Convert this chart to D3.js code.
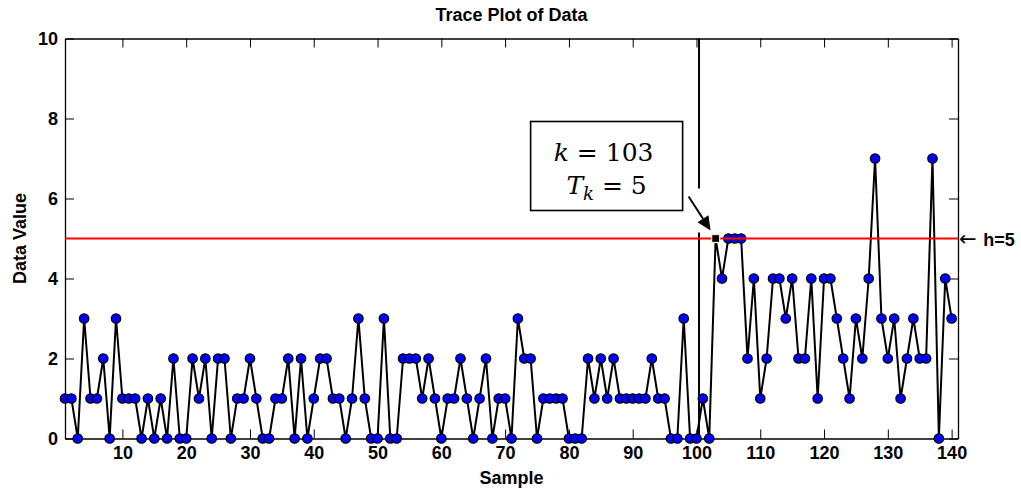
<!DOCTYPE html>
<html>
<head>
<meta charset="utf-8">
<script src="https://cdn.jsdelivr.net/npm/d3@7"></script>
<style>
  body { margin: 0; background: #fff; }
</style>
</head>
<body>
<svg id="chart" width="1021" height="489" font-family="Liberation Sans, Arial, sans-serif"></svg>
<script>
// sample values, index 1..140
const dataValues = [
    1,1,0,3,1,1,2,0,3,1,1,1,
    0,1,0,1,0,2,0,0,2,1,2,0,
    2,2,0,1,1,2,1,0,0,1,1,2,
    0,2,0,1,2,2,1,1,0,1,3,1,
    0,0,3,0,0,2,2,2,1,2,1,0,
    1,1,2,1,0,1,2,0,1,1,0,3,
    2,2,0,1,1,1,1,0,0,0,2,1,
    2,1,2,1,1,1,1,1,2,1,1,0,
    0,3,0,0,1,0,5,4,5,5,5,2,
    4,1,2,4,4,3,4,2,2,4,1,4,
    4,3,2,1,3,2,4,7,3,2,3,1,
    2,3,2,2,7,0,4,3];
const xTicks = [10, 20, 30, 40, 50, 60, 70, 80, 90, 100, 110, 120, 130, 140];
const yTicks = [0, 2, 4, 6, 8, 10];
const xDomain = [1, 141];
const yDomain = [0, 10];
const threshold = 5;          // h
const alarmIndex = 103;       // k
const changePoint = 100.4;    // vertical marker
const thresholdLabel = "h=5";
const boxLines = [["k", " = 103"], ["T", "k", " = 5"]];

let dimensions = (svg, m) =>
    ({width: +svg.attr("width"), height: +svg.attr("height"), margin: m,
      innerWidth: +svg.attr("width") - m.left - m.right,
      innerHeight: +svg.attr("height") - m.top - m.bottom});

function tracePlot(id) {
    const svg = d3.select(`#${id}`);
    const graph = dimensions(svg, {top: 38.5, left: 65, right: 63, bottom: 50.5});
    const data = dataValues.map((v, i) => ({sample: i + 1, value: v}));

    const x = d3.scaleLinear().domain(xDomain).range([0, graph.innerWidth]);
    const y = d3.scaleLinear().domain(yDomain).range([graph.innerHeight, 0]);

    const g = svg.append("g")
          .attr("transform", `translate(${graph.margin.left}, ${graph.margin.top})`);

    // axes (ticks point inward on all four sides)
    const styleAxis = sel => {
        sel.attr("font-family", null).attr("font-size", null);
        sel.select(".domain").attr("stroke", "#000").attr("stroke-width", 1.3);
        sel.selectAll(".tick line").attr("stroke", "#000").attr("stroke-width", 1);
        sel.selectAll(".tick text")
            .attr("font-weight", "bold")
            .attr("font-size", 18)
            .attr("fill", "#000");
    };

    g.append("g")
        .attr("transform", `translate(0, ${graph.innerHeight})`)
        .call(d3.axisBottom(x).tickValues(xTicks).tickSizeInner(-9).tickSizeOuter(0).tickPadding(8))
        .call(styleAxis);
    g.append("g")
        .call(d3.axisTop(x).tickValues(xTicks).tickSizeInner(-9).tickSizeOuter(0).tickFormat(""))
        .call(styleAxis);
    g.append("g")
        .call(d3.axisLeft(y).tickValues(yTicks).tickSizeInner(-9).tickSizeOuter(0).tickPadding(7))
        .call(styleAxis);
    g.append("g")
        .attr("transform", `translate(${graph.innerWidth}, 0)`)
        .call(d3.axisRight(y).tickValues(yTicks).tickSizeInner(-9).tickSizeOuter(0).tickFormat(""))
        .call(styleAxis);

    // change point marker, broken where the arrow passes
    const tip = [x(alarmIndex) - 5, y(threshold) - 8];
    const tail = [tip[0] - 22, tip[1] - 34];
    const vx = x(changePoint);
    [[0, tail[1] - 8], [tip[1] + 2, graph.innerHeight]].forEach(seg =>
        g.append("line")
            .attr("x1", vx).attr("x2", vx)
            .attr("y1", seg[0]).attr("y2", seg[1])
            .attr("stroke", "#000").attr("stroke-width", 2));

    // trace
    g.append("path")
        .attr("d", d3.line().x(d => x(d.sample)).y(d => y(d.value))(data))
        .attr("fill", "none")
        .attr("stroke", "#000")
        .attr("stroke-width", 2)
        .attr("stroke-linejoin", "round");

    g.selectAll("circle").data(data.filter(d => d.sample !== alarmIndex))
        .enter().append("circle")
        .attr("cx", d => x(d.sample))
        .attr("cy", d => y(d.value))
        .attr("r", 4.7)
        .attr("fill", "#0000ff")
        .attr("stroke", "#000")
        .attr("stroke-width", 1.3);

    // threshold
    g.append("line")
        .attr("x1", 0).attr("x2", graph.innerWidth)
        .attr("y1", y(threshold)).attr("y2", y(threshold))
        .attr("stroke", "#ff0000").attr("stroke-width", 2);

    // alarm point
    const alarm = data.find(d => d.sample === alarmIndex);
    g.append("rect")
        .attr("x", x(alarm.sample) - 4).attr("y", y(alarm.value) - 4)
        .attr("width", 8).attr("height", 8)
        .attr("fill", "#000")
        .attr("stroke", "#f3efc0").attr("stroke-width", 1.3);

    // annotation arrow
    const ang = Math.atan2(tip[1] - tail[1], tip[0] - tail[0]);
    const headLen = 14, headW = 6.5;
    const base = [tip[0] - headLen * Math.cos(ang), tip[1] - headLen * Math.sin(ang)];
    g.append("line")
        .attr("x1", tail[0]).attr("y1", tail[1])
        .attr("x2", base[0]).attr("y2", base[1])
        .attr("stroke", "#000").attr("stroke-width", 2);
    g.append("path")
        .attr("d", `M${tip[0]},${tip[1]}`
              + `L${base[0] - headW * Math.sin(ang)},${base[1] + headW * Math.cos(ang)}`
              + `L${base[0] + headW * Math.sin(ang)},${base[1] - headW * Math.cos(ang)}Z`)
        .attr("fill", "#000");

    // annotation box
    const box = {x: tail[0] - 158, y: tail[1] - 75, w: 152, h: 89};
    g.append("rect")
        .attr("x", box.x).attr("y", box.y)
        .attr("width", box.w).attr("height", box.h)
        .attr("fill", "#fff")
        .attr("stroke", "#000").attr("stroke-width", 1.6);

    const math = g.append("g")
          .style("font-family", "'DejaVu Serif', serif")
          .attr("font-size", 25)
          .attr("fill", "#000");
    const t1 = math.append("text")
          .attr("x", box.x + box.w / 2 - 3).attr("y", box.y + 39.5)
          .attr("text-anchor", "middle");
    t1.append("tspan").attr("font-style", "italic").text(boxLines[0][0]);
    t1.append("tspan").text(boxLines[0][1]);
    const t2 = math.append("text")
          .attr("x", box.x + box.w / 2).attr("y", box.y + 72)
          .attr("text-anchor", "middle");
    t2.append("tspan").attr("font-style", "italic").text(boxLines[1][0]);
    t2.append("tspan").attr("font-style", "italic").attr("font-size", 18)
        .attr("dy", 6).text(boxLines[1][1]);
    t2.append("tspan").attr("dy", -6).text(boxLines[1][2]);

    // threshold label outside the axes
    const hl = g.append("text")
          .attr("x", graph.innerWidth + 1).attr("y", y(threshold) + 7)
          .attr("font-size", 18)
          .attr("fill", "#000");
    hl.append("tspan").style("font-family", "'DejaVu Sans', sans-serif").attr("font-size", 21).text("\u2190 ");
    hl.append("tspan").attr("font-weight", "bold").text(thresholdLabel);

    // titles
    svg.append("text")
        .attr("x", graph.margin.left + graph.innerWidth / 2)
        .attr("y", 21)
        .attr("text-anchor", "middle")
        .attr("font-weight", "bold")
        .attr("font-size", 18)
        .text("Trace Plot of Data");
    svg.append("text")
        .attr("x", graph.margin.left + graph.innerWidth / 2)
        .attr("y", 484)
        .attr("text-anchor", "middle")
        .attr("font-weight", "bold")
        .attr("font-size", 18)
        .text("Sample");
    svg.append("text")
        .attr("transform", `translate(26, ${graph.margin.top + graph.innerHeight / 2}) rotate(-90)`)
        .attr("text-anchor", "middle")
        .attr("font-weight", "bold")
        .attr("font-size", 18)
        .text("Data Value");
}

tracePlot("chart");
</script>
</body>
</html>
